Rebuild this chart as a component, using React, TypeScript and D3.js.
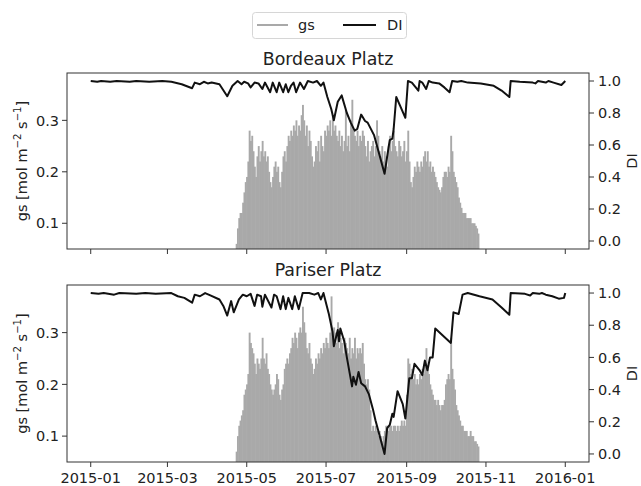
import React from "react";
import * as d3 from "d3";

// ---------- data ----------
const BASE_DATE = "2015-01-01";
const GS_START_DAY = 112; // 2015-04-23

const gsBordeaux = [
  0.06, 0.09, 0.11, 0.12, 0.12, 0.14, 0.16,
  0.18, 0.19, 0.22, 0.28, 0.26, 0.27, 0.24,
  0.21, 0.19, 0.23, 0.25, 0.22, 0.24, 0.26,
  0.23, 0.24, 0.22, 0.23, 0.2, 0.18, 0.17,
  0.19, 0.21, 0.22, 0.2, 0.21, 0.18, 0.17,
  0.2, 0.23, 0.24, 0.22, 0.25, 0.27, 0.26,
  0.28, 0.27, 0.29, 0.28, 0.3, 0.27, 0.29,
  0.28, 0.31, 0.33, 0.3, 0.27, 0.29, 0.25,
  0.28, 0.26, 0.23, 0.21, 0.22, 0.25, 0.24,
  0.26, 0.22, 0.27, 0.25, 0.24, 0.28, 0.27,
  0.29, 0.28, 0.3, 0.27, 0.31, 0.28, 0.29,
  0.27, 0.26, 0.28, 0.25, 0.27, 0.24, 0.26,
  0.32, 0.25, 0.27, 0.24, 0.3, 0.34, 0.28,
  0.27, 0.26, 0.28, 0.25, 0.27, 0.26, 0.28,
  0.27, 0.25, 0.23, 0.26, 0.22, 0.24, 0.25,
  0.26, 0.23, 0.25, 0.3, 0.27, 0.24, 0.23,
  0.25, 0.22, 0.24, 0.23, 0.21, 0.25, 0.27,
  0.24, 0.26, 0.28, 0.25, 0.24, 0.23, 0.26,
  0.25, 0.23, 0.24, 0.26, 0.22, 0.24, 0.28,
  0.22, 0.18, 0.17, 0.19, 0.21, 0.2, 0.22,
  0.21, 0.2, 0.22, 0.21, 0.23, 0.24, 0.22,
  0.24, 0.21, 0.22, 0.2, 0.21, 0.2, 0.19,
  0.18, 0.17, 0.165, 0.16, 0.17, 0.19, 0.2,
  0.2, 0.19, 0.21, 0.2, 0.27, 0.24, 0.2,
  0.19, 0.18, 0.17, 0.15, 0.14, 0.13, 0.12,
  0.12, 0.12, 0.11, 0.11, 0.11, 0.11, 0.1,
  0.1, 0.1, 0.095, 0.09, 0.08,
];

const gsPariser = [
  0.07, 0.1, 0.12, 0.13, 0.14, 0.15, 0.18,
  0.19, 0.2, 0.22, 0.3, 0.28, 0.27, 0.26,
  0.24, 0.22, 0.25, 0.24, 0.23, 0.25, 0.29,
  0.25, 0.24, 0.26, 0.23, 0.22, 0.2, 0.19,
  0.18, 0.19, 0.2, 0.22, 0.21, 0.18, 0.17,
  0.19, 0.2, 0.23, 0.24, 0.25, 0.24, 0.26,
  0.27, 0.29, 0.28, 0.3, 0.29, 0.27, 0.3,
  0.31, 0.3, 0.35, 0.32, 0.3, 0.27, 0.26,
  0.28, 0.25, 0.24, 0.22, 0.23, 0.25, 0.24,
  0.26, 0.25, 0.27, 0.26, 0.28, 0.27, 0.29,
  0.28, 0.27, 0.3, 0.37, 0.29, 0.31, 0.3,
  0.28, 0.32, 0.27, 0.29, 0.28, 0.26, 0.29,
  0.28, 0.27, 0.26, 0.29, 0.25, 0.27, 0.26,
  0.29, 0.25, 0.27, 0.26, 0.27, 0.26, 0.28,
  0.24, 0.21, 0.2, 0.21, 0.19, 0.15, 0.11,
  0.12, 0.11, 0.12, 0.11, 0.1, 0.11, 0.1,
  0.09, 0.1, 0.11, 0.12, 0.12, 0.11, 0.12,
  0.12, 0.11, 0.12, 0.12, 0.11, 0.12, 0.11,
  0.12, 0.13, 0.12, 0.13, 0.12, 0.18, 0.25,
  0.24, 0.22, 0.23, 0.21, 0.22, 0.2, 0.21,
  0.2, 0.22, 0.21, 0.23, 0.22, 0.24, 0.27,
  0.23, 0.22, 0.2, 0.19, 0.18, 0.17, 0.17,
  0.16, 0.17, 0.16, 0.15, 0.16, 0.16, 0.17,
  0.2, 0.21, 0.22, 0.21, 0.29, 0.23, 0.21,
  0.19, 0.16, 0.15, 0.14, 0.13, 0.12, 0.12,
  0.11, 0.11, 0.11, 0.1, 0.1, 0.11, 0.1,
  0.1, 0.09, 0.09, 0.085, 0.08,
];

const diDaysBordeaux = [
  0, 5, 8, 15, 20, 30, 35, 45, 55, 62, 70, 78, 80, 84, 87, 90, 93, 99, 105, 109,
  113, 116, 118, 121, 123, 126, 129, 132, 134, 138, 140, 143, 145, 148, 150, 152,
  154, 156, 158, 161, 164, 167, 171, 174, 177, 179, 182, 185, 187, 190, 193, 197,
  200, 203, 205, 208, 211, 213, 218, 222, 226, 229, 230, 232, 233, 235, 238, 242,
  244, 247, 250, 252, 253, 255, 258, 260, 263, 268, 272, 276, 278, 282, 285, 290,
  300, 310, 316, 322, 323, 330, 340, 342, 344, 350, 352, 356, 362, 365,
];
const diBordeaux = [
  1.0, 0.995, 1.0, 0.995, 1.0, 0.995, 1.0, 0.995, 1.0, 0.995, 0.98, 0.955, 0.99, 0.98, 0.995, 0.985, 0.99, 0.98, 0.905, 0.97,
  1.0, 0.98, 0.995, 0.985, 0.96, 0.99, 0.985, 0.95, 0.99, 0.93, 0.99, 0.93, 0.99, 0.93, 0.98, 0.93,
  0.97, 0.99, 0.93, 0.99, 0.95, 1.0, 0.99, 1.0, 0.97, 0.99, 0.9, 0.825, 0.755, 0.87, 0.91, 0.8,
  0.74, 0.69, 0.7, 0.79, 0.75, 0.74, 0.66, 0.54, 0.42, 0.58, 0.63, 0.64, 0.7, 0.9, 0.845, 0.77,
  1.0, 0.99, 0.96, 0.94, 1.0, 0.99, 0.95, 1.0, 0.99, 0.985, 0.96, 0.93, 1.0, 0.995, 1.0, 0.99,
  0.985, 0.97, 0.94, 0.9, 1.0, 0.995, 0.99, 0.985, 1.0, 0.99, 1.0, 0.99, 0.975, 1.0,
];

const diDaysPariser = [
  0, 6, 10, 18, 22, 35, 42, 50, 62, 67, 72, 78, 80, 84, 88, 92, 99, 102, 105, 108,
  110, 114, 117, 120, 123, 126, 128, 131, 132, 134, 139, 141, 143, 146, 148, 150,
  152, 155, 157, 160, 163, 168, 172, 175, 177, 179, 183, 186, 187, 190, 191, 192,
  195, 197, 201, 202, 204, 206, 208, 211, 214, 217, 219, 226, 228, 230, 232, 233,
  236, 240, 242, 245, 247, 249, 253, 255, 257, 259, 261, 263, 265, 277, 279, 283,
  286, 290, 299, 309, 316, 322, 323, 334, 338, 340, 345, 347, 350, 355, 360, 364, 365,
];
const diPariser = [
  1.0, 0.995, 1.0, 0.99, 1.0, 0.995, 1.0, 0.995, 1.0, 0.98, 0.97, 0.94, 0.99, 0.98, 1.0, 0.985, 0.96, 0.92, 0.86, 0.95,
  0.88, 0.96, 0.99, 0.98, 0.995, 0.92, 0.99, 0.98, 0.915, 0.99, 0.91, 0.99, 0.98, 0.9, 0.98, 0.9,
  0.97, 0.9, 0.98, 0.9, 1.0, 1.0, 0.99, 1.0, 0.96, 1.0, 0.875, 0.76, 0.67, 0.77, 0.7, 0.78,
  0.7, 0.6, 0.42, 0.48, 0.43, 0.51, 0.44, 0.42, 0.37, 0.28, 0.21, 0.0, 0.16, 0.18, 0.25, 0.23,
  0.39, 0.31, 0.22, 0.47, 0.47, 0.56, 0.52, 0.49, 0.58, 0.52, 0.6, 0.6, 0.78, 0.69, 0.88, 0.87,
  0.99, 1.0, 0.98, 0.96, 0.91, 0.865, 1.0, 0.995, 0.985, 1.0, 0.995, 1.0, 0.99, 0.98, 0.965, 0.97, 1.0,
];

const xTickLabels = ["2015-01", "2015-03", "2015-05", "2015-07", "2015-09", "2015-11", "2016-01"];
const gsTicks = [0.1, 0.2, 0.3];
const diTicks = [0.0, 0.2, 0.4, 0.6, 0.8, 1.0];
const panelTitles = ["Bordeaux Platz", "Pariser Platz"];
const legendLabels = ["gs", "DI"];

// ---------- layout ----------
const W = 641;
const H = 486;
const LEFT = 67;
const RIGHT = 589;
const FONT = "DejaVu Sans, Verdana, sans-serif";
const FS = 14.5;
const TEXT = "#222";
const BAR = "#a9a9a9";

const parseDay = d3.timeParse("%Y-%m-%d");
const parseMonth = d3.timeParse("%Y-%m");
const base = parseDay(BASE_DATE) as Date;
const dayDate = (n: number) => d3.timeHour.offset(base, Math.round(n * 24));

const x = d3
  .scaleTime()
  .domain([dayDate(-18.25), dayDate(365 + 18.25)])
  .range([LEFT, RIGHT]);

type PanelSpec = {
  title: string;
  top: number;
  bottom: number;
  titleY: number;
  gs: number[];
  diDays: number[];
  di: number[];
  xLabels: boolean;
};

const panels: PanelSpec[] = [
  { title: panelTitles[0], top: 73, bottom: 249, titleY: 65, gs: gsBordeaux, diDays: diDaysBordeaux, di: diBordeaux, xLabels: false },
  { title: panelTitles[1], top: 285, bottom: 462, titleY: 276, gs: gsPariser, diDays: diDaysPariser, di: diPariser, xLabels: true },
];

function Panel({ p, idx }: { p: PanelSpec; idx: number }) {
  const yGs = d3.scaleLinear().domain([0.05, 0.392]).range([p.bottom, p.top]);
  const yDi = d3.scaleLinear().domain([-0.05, 1.05]).range([p.bottom, p.top]);
  const line = d3
    .line<[number, number]>()
    .x((d) => x(dayDate(d[0])))
    .y((d) => yDi(d[1]));
  const pts: [number, number][] = p.diDays.map((d, i) => [d, p.di[i]]);
  const cy = (p.top + p.bottom) / 2;
  const clipId = `clip${idx}`;
  const xTicks = xTickLabels.map((s) => parseMonth(s) as Date);
  return (
    <g>
      <defs>
        <clipPath id={clipId}>
          <rect x={LEFT} y={p.top} width={RIGHT - LEFT} height={p.bottom - p.top} />
        </clipPath>
      </defs>
      <g clipPath={`url(#${clipId})`}>
        {p.gs.map((v, i) => {
          const d = GS_START_DAY + i;
          const x0 = x(dayDate(d - 0.5));
          const x1 = x(dayDate(d + 0.5));
          const yt = yGs(v);
          return <rect key={i} x={x0} y={yt} width={x1 - x0 + 0.6} height={yGs(0.05) - yt} fill={BAR} />;
        })}
        <path d={line(pts) || ""} fill="none" stroke="#111" strokeWidth={2} strokeLinejoin="round" />
      </g>
      <rect x={LEFT} y={p.top} width={RIGHT - LEFT} height={p.bottom - p.top} fill="none" stroke="#333" strokeWidth={1} />
      {/* left axis */}
      {gsTicks.map((t) => (
        <g key={`l${t}`}>
          <line x1={LEFT - 5} x2={LEFT} y1={yGs(t)} y2={yGs(t)} stroke="#333" />
          <text x={LEFT - 8} y={yGs(t)} dy="0.36em" textAnchor="end" fontSize={FS} fill={TEXT}>
            {t.toFixed(1)}
          </text>
        </g>
      ))}
      {/* right axis */}
      {diTicks.map((t) => (
        <g key={`r${t}`}>
          <line x1={RIGHT} x2={RIGHT + 5} y1={yDi(t)} y2={yDi(t)} stroke="#333" />
          <text x={RIGHT + 9} y={yDi(t)} dy="0.36em" textAnchor="start" fontSize={FS} fill={TEXT}>
            {t.toFixed(1)}
          </text>
        </g>
      ))}
      {/* x axis */}
      {xTicks.map((t, i) => (
        <g key={`x${i}`}>
          <line x1={x(t)} x2={x(t)} y1={p.bottom} y2={p.bottom + 5} stroke="#333" />
          {p.xLabels && (
            <text x={x(t)} y={p.bottom + 21} textAnchor="middle" fontSize={FS} fill={TEXT}>
              {xTickLabels[i]}
            </text>
          )}
        </g>
      ))}
      <text x={(LEFT + RIGHT) / 2} y={p.titleY} textAnchor="middle" fontSize={17.4} fill={TEXT}>
        {p.title}
      </text>
      <text transform={`translate(27,${cy}) rotate(-90)`} textAnchor="middle" fontSize={FS} fill={TEXT}>
        <tspan>gs [mol m</tspan>
        <tspan dy={-6} fontSize={FS * 0.7}>−2</tspan>
        <tspan dy={6}> s</tspan>
        <tspan dy={-6} fontSize={FS * 0.7}>−1</tspan>
        <tspan dy={6}>]</tspan>
      </text>
      <text transform={`translate(637,${cy}) rotate(-90)`} textAnchor="middle" fontSize={FS} fill={TEXT}>
        DI
      </text>
    </g>
  );
}

export default function App() {
  return (
    <svg
      width={W}
      height={H}
      viewBox={`0 0 ${W} ${H}`}
      style={{ position: "absolute", left: 0, top: 0, display: "block", background: "#fff" }}
      fontFamily={FONT}
    >
      <rect x={0} y={0} width={W} height={H} fill="#fff" />
      {/* legend */}
      <g>
        <rect x={252.5} y={12.5} width={154} height={26} rx={3} fill="#fff" stroke="#d6d6d6" />
        <line x1={257} x2={288} y1={25} y2={25} stroke={BAR} strokeWidth={2} />
        <text x={298} y={30} fontSize={FS} fill={TEXT}>{legendLabels[0]}</text>
        <line x1={343} x2={376} y1={25} y2={25} stroke="#111" strokeWidth={2} />
        <text x={387} y={30} fontSize={FS} fill={TEXT}>{legendLabels[1]}</text>
      </g>
      {panels.map((p, i) => (
        <Panel key={i} p={p} idx={i} />
      ))}
    </svg>
  );
}
